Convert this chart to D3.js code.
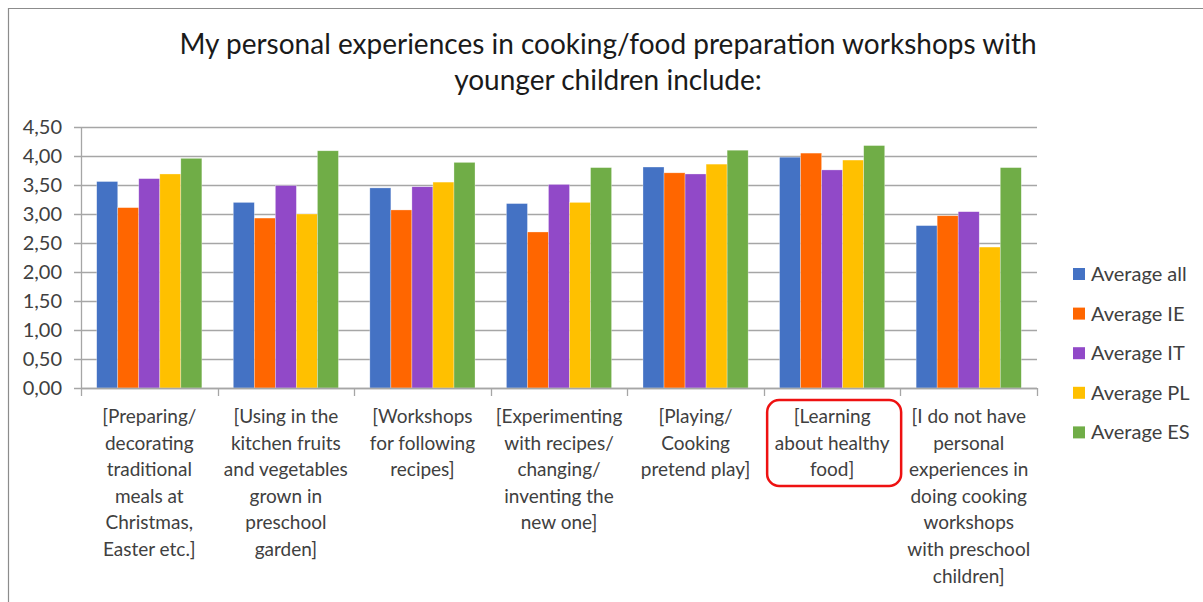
<!DOCTYPE html>
<html>
<head>
<meta charset="utf-8">
<script src="https://cdn.jsdelivr.net/npm/d3@7/dist/d3.min.js"></script>
<style>
  html, body { margin: 0; padding: 0; background: #fff; }
  svg { display: block; }
  text { font-family: Lato, "Open Sans", sans-serif; }
</style>
</head>
<body>
<svg id="chart" width="1203" height="602"></svg>
<script>
const titleLines = ["My personal experiences in cooking/food preparation workshops with", "younger children include:"];

const categories = [
  ["[Preparing/", "decorating", "traditional", "meals at", "Christmas,", "Easter etc.]"],
  ["[Using in the", "kitchen fruits", "and vegetables", "grown in", "preschool", "garden]"],
  ["[Workshops", "for following", "recipes]"],
  ["[Experimenting", "with recipes/", "changing/", "inventing the", "new one]"],
  ["[Playing/", "Cooking", "pretend play]"],
  ["[Learning", "about healthy", "food]"],
  ["[I do not have", "personal", "experiences in", "doing cooking", "workshops", "with preschool", "children]"]
];

const seriesNames = ["Average all", "Average IE", "Average IT", "Average PL", "Average ES"];
const seriesColors = ["#4472C4", "#FF6600", "#9149C8", "#FFC000", "#70AD47"];

const averageAll = [3.56, 3.20, 3.45, 3.18, 3.81, 3.98, 2.80];
const averageIE  = [3.11, 2.93, 3.07, 2.69, 3.71, 4.05, 2.97];
const averageIT  = [3.61, 3.49, 3.47, 3.51, 3.69, 3.76, 3.04];
const averagePL  = [3.69, 3.00, 3.55, 3.20, 3.86, 3.93, 2.43];
const averageES  = [3.96, 4.09, 3.89, 3.80, 4.10, 4.18, 3.80];

const yTicks = [0, 0.5, 1, 1.5, 2, 2.5, 3, 3.5, 4, 4.5];
const highlightedCategory = 5;

const seriesValues = [averageAll, averageIE, averageIT, averagePL, averageES];

const svg = d3.select("#chart");
const W = 1203, H = 602;
const plot = { left: 81, right: 1037, top: 127, bottom: 388 };

// outer frame
svg.append("path")
  .attr("d", `M8.5,${H + 5} V8.5 H${W + 5}`)
  .attr("fill", "none").attr("stroke", "#8c8c8c").attr("stroke-width", 1.2);

// title
svg.append("g").selectAll("text").data(titleLines).join("text")
  .attr("x", 608).attr("y", (d, i) => 54 + i * 36)
  .attr("text-anchor", "middle")
  .attr("font-size", 28).attr("fill", "#1a1a1a")
  .text(d => d);

const x0 = d3.scaleBand()
  .domain(d3.range(categories.length))
  .range([plot.left, plot.right])
  .paddingInner(0.23).paddingOuter(0.115);

const x1 = d3.scaleBand()
  .domain(d3.range(seriesNames.length))
  .range([0, x0.bandwidth()]);

const y = d3.scaleLinear().domain([0, 4.5]).range([plot.bottom, plot.top]);

// gridlines
svg.append("g").selectAll("line").data(yTicks).join("line")
  .attr("x1", plot.left - 7).attr("x2", plot.right)
  .attr("y1", d => Math.round(y(d)) + 0.5).attr("y2", d => Math.round(y(d)) + 0.5)
  .attr("stroke", "#a6a6a6").attr("stroke-width", 1.3);

// y axis line
svg.append("line")
  .attr("x1", plot.left + 0.5).attr("x2", plot.left + 0.5)
  .attr("y1", plot.top).attr("y2", plot.bottom)
  .attr("stroke", "#a6a6a6").attr("stroke-width", 1.3);

// y tick labels
const fmt = v => d3.format(".2f")(v).replace(".", ",");
svg.append("g").selectAll("text").data(yTicks).join("text")
  .attr("x", 62).attr("y", d => y(d) + 6.5)
  .attr("text-anchor", "end").attr("font-size", 20).attr("fill", "#404040")
  .text(fmt);

// x category boundary ticks
const boundaries = d3.range(categories.length + 1).map(i =>
  i === 0 ? plot.left : (i === categories.length ? plot.right : x0(i) - x0.step() * x0.paddingInner() / 2));
svg.append("g").selectAll("line").data(boundaries).join("line")
  .attr("x1", d => Math.round(d) + 0.5).attr("x2", d => Math.round(d) + 0.5)
  .attr("y1", plot.bottom).attr("y2", plot.bottom + 8)
  .attr("stroke", "#a6a6a6").attr("stroke-width", 1.3);

// bars
const groups = svg.append("g").selectAll("g").data(categories).join("g")
  .attr("transform", (d, i) => `translate(${x0(i)},0)`);
groups.selectAll("rect")
  .data((d, ci) => seriesValues.map((vals, si) => ({ si, v: vals[ci] })))
  .join("rect")
  .attr("x", d => x1(d.si)).attr("width", x1.bandwidth())
  .attr("y", d => y(d.v)).attr("height", d => y(0) - y(d.v))
  .attr("fill", d => seriesColors[d.si])
  .attr("stroke", "#ffffff").attr("stroke-opacity", 0.5).attr("stroke-width", 0.6);

// bottom axis line on top of bars
svg.append("line")
  .attr("x1", plot.left).attr("x2", plot.right)
  .attr("y1", plot.bottom + 0.5).attr("y2", plot.bottom + 0.5)
  .attr("stroke", "#a6a6a6").attr("stroke-width", 1.3);

// x labels
const labelG = svg.append("g").selectAll("text").data(categories).join("text")
  .attr("text-anchor", "middle").attr("font-size", 19).attr("fill", "#404040")
  .attr("x", (d, i) => x0(i) + x0.bandwidth() / 2);
labelG.selectAll("tspan").data((d, i) => d.map(t => ({ t, i }))).join("tspan")
  .attr("x", d => x0(d.i) + x0.bandwidth() / 2)
  .attr("y", (d, j) => 423 + j * 26.6)
  .text(d => d.t);

// highlight box
const hc = x0(highlightedCategory) + x0.bandwidth() / 2 + 2;
svg.append("rect")
  .attr("x", hc - 67).attr("y", 400).attr("width", 134).attr("height", 86)
  .attr("rx", 12).attr("ry", 12)
  .attr("fill", "none").attr("stroke", "#ee1111").attr("stroke-width", 2.5);

// legend
const leg = svg.append("g").selectAll("g").data(seriesNames).join("g")
  .attr("transform", (d, i) => `translate(1073, ${274 + i * 39.6})`);
leg.append("rect").attr("x", 0).attr("y", -6).attr("width", 12).attr("height", 12)
  .attr("fill", (d, i) => seriesColors[i]);
leg.append("text").attr("x", 18).attr("y", 7)
  .attr("font-size", 20).attr("fill", "#404040").text(d => d);
</script>
</body>
</html>
